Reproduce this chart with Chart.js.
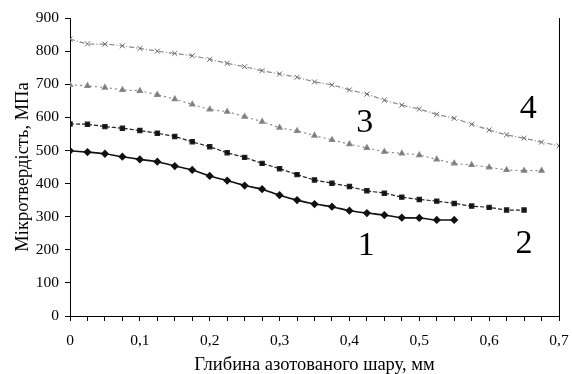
<!DOCTYPE html>
<html>
<head>
<meta charset="utf-8">
<script src="https://cdn.jsdelivr.net/npm/chart.js@4"></script>
<style>
  html, body { margin: 0; padding: 0; background: #fff; }
  #wrap { width: 572px; height: 374px; }
</style>
</head>
<body>
<div id="wrap"><canvas id="chart"></canvas></div>
<script>
// depth steps, mm
const depth = [0, 0.025, 0.05, 0.075, 0.1, 0.125, 0.15, 0.175, 0.2, 0.225, 0.25, 0.275, 0.3, 0.325, 0.35,
  0.375, 0.4, 0.425, 0.45, 0.475, 0.5, 0.525, 0.55, 0.575, 0.6, 0.625, 0.65, 0.675, 0.7]

const curve1 = [499, 495, 490, 481, 473, 466, 453, 441, 423, 409, 394, 383, 365, 350, 338,
  330, 318, 311, 305, 297, 296, 290, 290]
const curve2 = [580, 579, 572, 567, 560, 552, 542, 526, 511, 493, 479, 461, 445, 427, 411,
  401, 391, 378, 371, 359, 352, 347, 340, 332, 328, 320, 320]
const curve3 = [698, 695, 690, 683, 680, 668, 655, 639, 624, 617, 602, 587, 569, 559, 545,
  532, 519, 508, 496, 491, 486, 473, 461, 456, 449, 441, 439, 439]
const curve4 = [836, 822, 821, 816, 808, 800, 793, 786, 775, 763, 753, 741, 731, 721, 707,
  698, 683, 670, 652, 637, 625, 609, 597, 579, 562, 547, 537, 525, 514]

// curve numbers, baseline position in data coordinates
const curveLabels = [
  { text: '1', x: 0.424, y: 184 },
  { text: '2', x: 0.650, y: 190 },
  { text: '3', x: 0.422, y: 556 },
  { text: '4', x: 0.656, y: 598 }
]

const serif = '"Liberation Serif", "DejaVu Serif", serif'

const toPoints = (vals) => vals.map((v, i) => ({ x: depth[i], y: v }))

// right frame line + curve numbers
const extras = {
  id: 'extras',
  afterDraw(chart) {
    const { ctx, chartArea, scales } = chart
    ctx.save()
    ctx.strokeStyle = '#000'
    ctx.lineWidth = 1
    ctx.beginPath()
    ctx.moveTo(chartArea.right + 0.5, chartArea.top)
    ctx.lineTo(chartArea.right + 0.5, chartArea.bottom)
    ctx.stroke()
    ctx.fillStyle = '#000'
    ctx.font = '34px ' + serif
    ctx.textAlign = 'center'
    ctx.textBaseline = 'alphabetic'
    curveLabels.forEach(l => {
      ctx.fillText(l.text, scales.x.getPixelForValue(l.x), scales.y.getPixelForValue(l.y))
    })
    ctx.restore()
  }
}

new Chart(document.getElementById('chart').getContext('2d'), {
  type: 'line',
  data: {
    datasets: [
      {
        label: '1',
        data: toPoints(curve1),
        borderColor: '#111',
        backgroundColor: '#111',
        borderWidth: 1.6,
        pointStyle: 'rectRot',
        pointRadius: 3,
        tension: 0.2
      },
      {
        label: '2',
        data: toPoints(curve2),
        borderColor: '#222',
        backgroundColor: '#111',
        borderWidth: 1.2,
        borderDash: [4, 2],
        pointStyle: 'rect',
        pointRadius: 3,
        tension: 0.2
      },
      {
        label: '3',
        data: toPoints(curve3),
        borderColor: '#8a8a8a',
        backgroundColor: '#777',
        borderWidth: 1.2,
        borderDash: [2, 3],
        pointStyle: 'triangle',
        pointRadius: 3,
        tension: 0.2
      },
      {
        label: '4',
        data: toPoints(curve4),
        borderColor: '#8a8a8a',
        backgroundColor: '#777',
        pointBorderColor: '#666',
        borderWidth: 1.2,
        borderDash: [5, 2, 1, 2],
        pointStyle: 'crossRot',
        pointRadius: 3.5,
        pointBorderWidth: 1,
        tension: 0.2
      }
    ]
  },
  options: {
    responsive: true,
    maintainAspectRatio: false,
    animation: false,
    layout: {
      padding: { left: 0, right: 13, top: 18, bottom: 0 }
    },
    plugins: {
      legend: { display: false },
      tooltip: { enabled: false }
    },
    scales: {
      x: {
        type: 'linear',
        min: 0,
        max: 0.7,
        afterFit: (scale) => {
          scale.height = 58
          scale.paddingLeft = 0
          scale.paddingRight = 0
        },
        border: { color: '#000', width: 1 },
        grid: {
          drawOnChartArea: false,
          color: '#000',
          tickLength: 5
        },
        ticks: {
          stepSize: 0.025,
          autoSkip: false,
          maxRotation: 0,
          color: '#000',
          padding: 11,
          font: { family: serif, size: 15.5 },
          callback: function(value) {
            const t = value * 10
            if (Math.abs(t - Math.round(t)) > 1e-6) return ''
            return String(Math.round(t) / 10).replace('.', ',')
          }
        },
        title: {
          display: true,
          text: 'Глибина азотованого шару, мм',
          color: '#000',
          font: { family: serif, size: 18.5, lineHeight: 1 },
          padding: { top: 2, bottom: 0 }
        }
      },
      y: {
        min: 0,
        max: 900,
        afterFit: (scale) => { scale.width = 70 },
        border: { color: '#000', width: 1 },
        grid: {
          drawOnChartArea: false,
          color: '#000',
          tickLength: 5
        },
        ticks: {
          stepSize: 100,
          color: '#000',
          padding: 6,
          font: { family: serif, size: 15.5 }
        },
        title: {
          display: true,
          text: 'Мікротвердість, МПа',
          color: '#000',
          font: { family: serif, size: 18.5, lineHeight: 1 },
          padding: { top: 14, bottom: 0 }
        }
      }
    }
  },
  plugins: [extras]
})
</script>
</body>
</html>
